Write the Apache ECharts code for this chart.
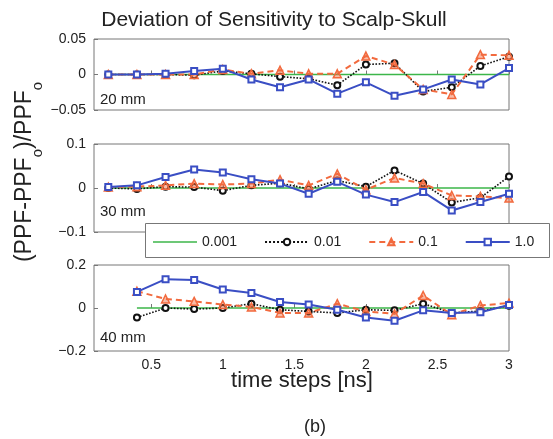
<!DOCTYPE html>
<html>
<head>
<meta charset="utf-8">
<script src="https://cdn.jsdelivr.net/npm/echarts@6/dist/echarts.min.js"></script>
<style>
  html, body { margin: 0; background: #fff; }
  #chart { width: 553px; height: 439px; }
</style>
</head>
<body>
<div id="chart"></div>
<script>
// time axis (ns)
const timeSteps = [0.2, 0.4, 0.6, 0.8, 1.0, 1.2, 1.4, 1.6, 1.8, 2.0, 2.2, 2.4, 2.6, 2.8, 3.0]
const timeSteps40 = [0.4, 0.6, 0.8, 1.0, 1.2, 1.4, 1.6, 1.8, 2.0, 2.2, 2.4, 2.6, 2.8, 3.0]
const xTicks = [0.5, 1, 1.5, 2, 2.5, 3]

const legendNames = ['0.001', '0.01', '0.1', '1.0']
const panelLabels = ['20 mm', '30 mm', '40 mm']

// 20 mm
const d20_0001 = [0, 0, 0, 0, 0, 0, 0, 0, 0, 0, 0, 0, 0, 0, 0]
const d20_001 = [0, 0, 0, -0.001, 0.005, 0.001, -0.003, -0.006, -0.015, 0.014, 0.016, -0.024, -0.018, 0.012, 0.025]
const d20_01 = [0, 0, 0, 0, 0.007, 0.001, 0.006, 0.001, 0.001, 0.026, 0.014, -0.021, -0.028, 0.028, 0.027]
const d20_10 = [0, 0, 0.001, 0.005, 0.008, -0.007, -0.018, -0.007, -0.027, -0.011, -0.030, -0.021, -0.007, -0.014, 0.009]

// 30 mm
const d30_0001 = [0, 0, 0, 0, 0, 0, 0, 0, 0, 0, 0, 0, 0, 0, 0]
const d30_001 = [0, -0.002, 0.003, 0.002, -0.006, 0.006, 0.011, -0.002, 0.017, 0.003, 0.040, 0.010, -0.033, -0.022, 0.026]
const d30_01 = [0.002, 0.003, 0.006, 0.010, 0.008, 0.010, 0.019, 0.006, 0.032, -0.004, 0.023, 0.010, -0.017, -0.019, -0.023]
const d30_10 = [0.002, 0.006, 0.025, 0.042, 0.035, 0.020, 0.010, -0.013, 0.014, -0.015, -0.032, -0.009, -0.051, -0.032, -0.013]

// 40 mm
const d40_0001 = [0, 0, 0, 0, 0, 0, 0, 0, 0, 0, 0, 0, 0, 0]
const d40_001 = [-0.044, 0, -0.005, 0, 0.020, -0.008, -0.016, -0.023, -0.008, -0.011, 0.020, -0.023, -0.014, 0.011]
const d40_01 = [0.078, 0.042, 0.031, 0.016, 0.005, -0.023, -0.023, 0.020, -0.016, -0.027, 0.058, -0.031, 0.012, 0.023]
const d40_10 = [0.075, 0.134, 0.130, 0.086, 0.070, 0.028, 0.016, -0.008, -0.044, -0.059, -0.011, -0.023, -0.020, 0.014]

const yRanges = [0.05, 0.1, 0.2]

const FONT = 'Liberation Sans, Arial, sans-serif'
const FRAME = '#777'

const panels = [
    { x: timeSteps, sets: [d20_0001, d20_001, d20_01, d20_10] },
    { x: timeSteps, sets: [d30_0001, d30_001, d30_01, d30_10] },
    { x: timeSteps40, sets: [d40_0001, d40_001, d40_01, d40_10] }
]

const grids = [
    { left: 94, right: 44, top: 39, height: 71 },
    { left: 94, right: 44, top: 144, height: 88 },
    { left: 94, right: 44, top: 265, height: 86 }
]

const seriesStyle = {
    '0.001': {
        symbol: 'none',
        lineStyle: { color: '#3cb64a', width: 1.3 },
        itemStyle: { color: '#3cb64a' }
    },
    '0.01': {
        symbol: 'emptyCircle', symbolSize: 6,
        lineStyle: { color: '#111', width: 1.6, type: 'dotted' },
        itemStyle: { color: '#111', borderWidth: 1.8 }
    },
    '0.1': {
        symbol: 'triangle', symbolSize: 8,
        lineStyle: { color: '#f26a3e', width: 2, type: [6, 4] },
        itemStyle: { color: 'rgba(242,106,62,0.45)', borderColor: '#f26a3e', borderWidth: 1.5 }
    },
    '1.0': {
        symbol: 'emptyRect', symbolSize: 6,
        lineStyle: { color: '#3a4ec4', width: 2 },
        itemStyle: { color: '#3a4ec4', borderWidth: 1.5 }
    }
}

const fmtMinus = v => (v < 0 ? '\u2212' + String(-v) : String(v))

const xAxes = grids.map((g, i) => ({
    type: 'value', gridIndex: i, min: 0.1, max: 3,
    axisLine: { show: false },
    splitLine: { show: false },
    axisTick: { show: true, inside: true, length: 4, lineStyle: { color: FRAME }, customValues: xTicks },
    axisLabel: {
        show: i === 2, customValues: xTicks, margin: 7,
        color: '#222', fontSize: 14, fontFamily: FONT
    }
}))

const yAxes = yRanges.map((r, i) => ({
    type: 'value', gridIndex: i, min: -r, max: r, interval: r,
    axisLine: { show: false },
    splitLine: { show: false },
    axisTick: { show: true, inside: true, length: 4, lineStyle: { color: FRAME } },
    axisLabel: {
        margin: 8, color: '#222', fontSize: 14, fontFamily: FONT,
        formatter: fmtMinus
    }
}))

const series = []
panels.forEach((p, pi) => {
    legendNames.forEach((name, si) => {
        const vals = p.sets[si]
        series.push(Object.assign({
            type: 'line', name: name,
            xAxisIndex: pi, yAxisIndex: pi,
            data: p.x.map((x, k) => [x, vals[k]]),
            animation: false,
            z: 2 + si
        }, seriesStyle[name]))
    })
})

const labelTexts = panelLabels.map((t, i) => ({
    type: 'text', z: 5,
    style: { x: 100, y: [100, 212, 338][i], text: t, font: '15px ' + FONT, fill: '#222', verticalAlign: 'middle' }
}))

// legend: plain line icon for the reference (0.001) curve
const legendData = legendNames.map(n => (n === '0.001' ? { name: n, icon: 'path://M0,0h44v1.3h-44z' } : { name: n }))

const option = {
    animation: false,
    grid: grids.map(g => Object.assign({ show: true, borderColor: FRAME, borderWidth: 1, backgroundColor: '#fff' }, g)),
    xAxis: xAxes,
    yAxis: yAxes,
    series: series,
    legend: {
        data: legendData,
        left: 153, top: 235,
        itemWidth: 44, itemHeight: 8, itemGap: 27,
        padding: 0, z: 20,
        textStyle: { fontSize: 14, color: '#222', fontFamily: FONT }
    },
    graphic: [
        {
            type: 'rect', z: 15,
            shape: { x: 145.5, y: 223.5, width: 404, height: 34 },
            style: { fill: '#fff', stroke: FRAME, lineWidth: 1 }
        },
        {
            type: 'text',
            style: { x: 274, y: 20, text: 'Deviation of Sensitivity to Scalp-Skull', font: '21px ' + FONT, fill: '#222', align: 'center', verticalAlign: 'middle' }
        },
        {
            type: 'text',
            style: { x: 302, y: 381, text: 'time steps [ns]', font: '22px ' + FONT, fill: '#222', align: 'center', verticalAlign: 'middle' }
        },
        {
            type: 'text',
            style: { x: 315, y: 427, text: '(b)', font: '18px ' + FONT, fill: '#222', align: 'center', verticalAlign: 'middle' }
        },
        {
            type: 'text', x: 25, y: 172, rotation: Math.PI / 2,
            style: {
                x: 0, y: 0, text: '(PPF-PPF{s|o})/PPF{s|o}',
                font: '23px ' + FONT, fill: '#222', align: 'center', verticalAlign: 'middle',
                lineHeight: 40,
                rich: { s: { fontSize: 15, fontFamily: FONT, fill: '#222', lineHeight: 15, verticalAlign: 'bottom' } }
            }
        }
    ].concat(labelTexts)
}

const chart = echarts.init(document.getElementById('chart'), null, { renderer: 'canvas' })
chart.setOption(option)
</script>
</body>
</html>
